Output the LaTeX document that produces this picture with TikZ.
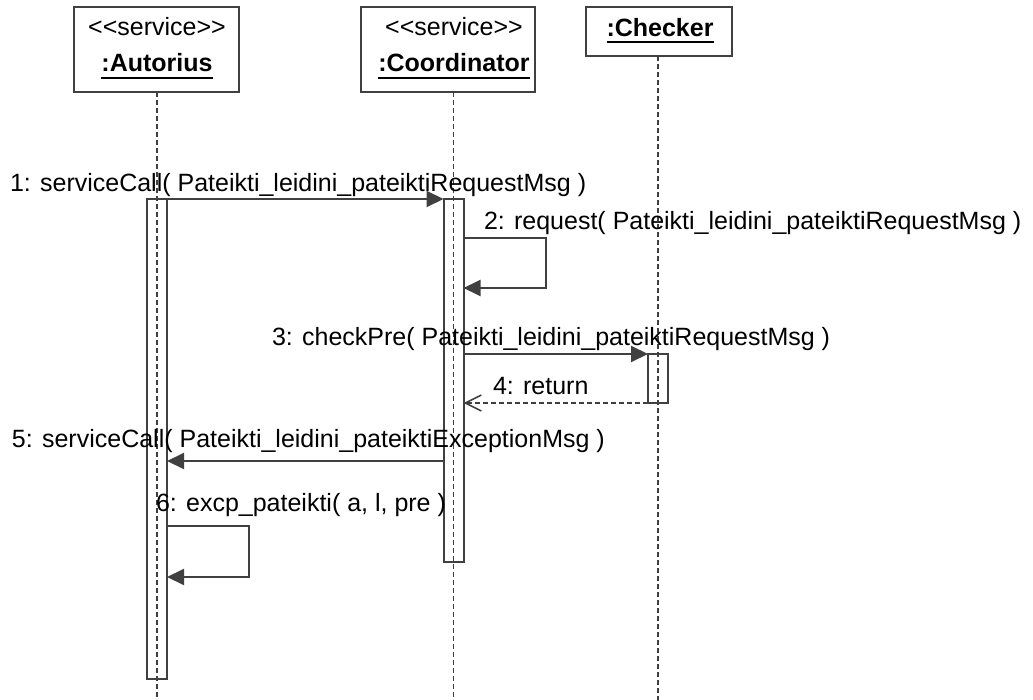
\documentclass[tikz,border=0pt]{standalone}
\usepackage{fontspec}
\setmainfont{Liberation Sans}
\usetikzlibrary{arrows.meta}
\definecolor{umlline}{RGB}{64,64,64}
% stereotype text; the kerns keep << and >> from turning into guillemets
\newcommand{\stereo}[1]{<\kern0pt<#1>\kern0pt>}
\begin{document}
\begin{tikzpicture}[x=1pt,y=-1pt,
  every node/.style={inner sep=0pt, outer sep=0pt},
  lbl/.style={anchor=base west, font=\fontsize{25}{30}\selectfont},
  head/.style={anchor=base, font=\fontsize{25}{30}\selectfont},
  headb/.style={anchor=base, font=\fontsize{25}{30}\selectfont\bfseries},
  objbox/.style={draw=umlline, line width=2pt, fill=white, anchor=north west},
  bar/.style={draw=umlline, line width=2pt, fill=white, minimum width=20pt, anchor=north},
  lifeline/.style={draw=umlline, line width=1.6pt, dash pattern=on 5pt off 3pt},
  msg/.style={draw=umlline, line width=2pt, -{Triangle[length=17pt 0,width=16pt 0]}},
  ret/.style={draw=umlline, line width=1.6pt, dash pattern=on 5pt off 3pt,
              -{Straight Barb[length=16pt 0,width=16pt 0,line width=1.6pt]}},
  uline/.style={draw=black, line width=2pt}]
\useasboundingbox (0,0) rectangle (1033,700);

% object boxes
\node[objbox, minimum width=165pt, minimum height=85pt] (autbox) at (74,7) {};
\node[objbox, minimum width=174pt, minimum height=85pt] (coobox) at (361,7) {};
\node[objbox, minimum width=146pt, minimum height=49pt] (chkbox) at (586,7) {};

% activation bars
\node[bar, minimum height=480pt] (a1) at (157,199) {};
\node[bar, minimum height=363pt] (c1) at (453.5,199) {};
\node[bar, minimum height=49pt]  (k1) at (658,354) {};

% lifelines
\coordinate (autend) at (157,700);
\coordinate (cooend) at (453.5,700);
\coordinate (chkend) at (658,700);
\draw[lifeline] (autend |- autbox.south) -- (autend);
\draw[lifeline] (cooend |- coobox.south) -- (cooend);
\draw[lifeline] (chkend |- chkbox.south) -- (chkend);

% object names
\node[head]  (autst) at (157,36) {\stereo{service}};
\node[headb] (autnm) at (157,72) {:Autorius};
\node[head]  (coost) at (454,36) {\stereo{service}};
\node[headb] (coonm) at (454,72) {:Coordinator};
\node[headb] (chknm) at (660,37) {:Checker};
\draw[uline] ([yshift=-6pt]autnm.base west) -- ([yshift=-6pt]autnm.base east);
\draw[uline] ([yshift=-6pt]coonm.base west) -- ([yshift=-6pt]coonm.base east);
\draw[uline] ([yshift=-5pt]chknm.base west) -- ([yshift=-5pt]chknm.base east);

% messages
\draw[msg] (a1.north east) -- (c1.north west);
\coordinate (m2a) at (546,238);
\coordinate (m2b) at (546,288);
\draw[msg] (c1.east |- m2a) -- (m2a) -- (m2b) -- (c1.east |- m2b);
\draw[msg] (c1.east |- k1.north) -- (k1.north west);
\draw[ret] (k1.south west) -- (c1.east |- k1.south west);
\coordinate (m5) at (300,461);
\draw[msg] (c1.west |- m5) -- (a1.east |- m5);
\coordinate (m6a) at (249,526);
\coordinate (m6b) at (249,577);
\draw[msg] (a1.east |- m6a) -- (m6a) -- (m6b) -- (a1.east |- m6b);

% message labels
\node[lbl] (l1) at (10,192)  {1: serviceCall( Pateikti\_leidini\_pateiktiRequestMsg )};
\node[lbl] (l2) at (484,230) {2: request( Pateikti\_leidini\_pateiktiRequestMsg )};
\node[lbl] (l3) at (272,345) {3: checkPre( Pateikti\_leidini\_pateiktiRequestMsg )};
\node[lbl] (l4) at (493,395) {4: return};
\node[lbl] (l5) at (12,447)  {5: serviceCall( Pateikti\_leidini\_pateiktiExceptionMsg )};
\node[lbl] (l6) at (156,511) {6: excp\_pateikti( a, l, pre )};
\end{tikzpicture}
\end{document}
